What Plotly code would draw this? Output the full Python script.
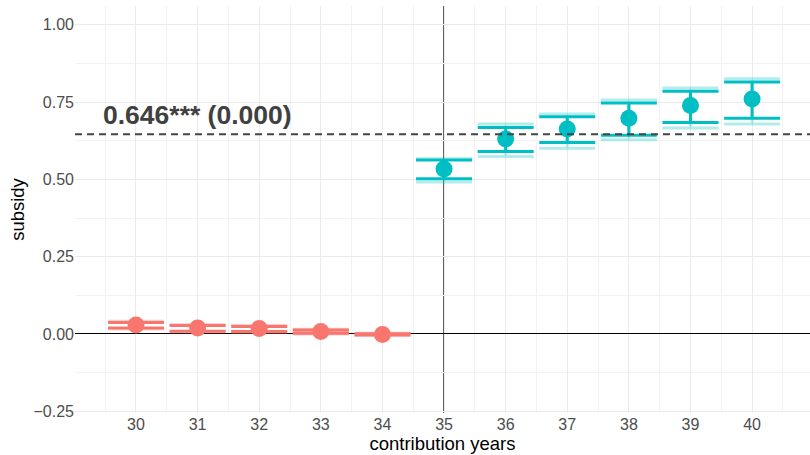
import plotly.graph_objects as go

# ---- data ----
years_pre = [30, 31, 32, 33, 34]
est_pre = [0.029, 0.019, 0.018, 0.008, -0.002]
hi_pre_inner = [0.037, 0.027, 0.024, 0.013, 0.001]
lo_pre_inner = [0.019, 0.009, 0.008, 0.002, -0.003]
hi_pre_outer = [0.041, 0.030, 0.027, 0.015, 0.002]
lo_pre_outer = [0.016, 0.006, 0.005, 0.000, -0.004]

years_post = [35, 36, 37, 38, 39, 40]
est_post = [0.534, 0.631, 0.663, 0.698, 0.739, 0.760]
hi_post_inner = [0.563, 0.668, 0.703, 0.747, 0.785, 0.815]
lo_post_inner = [0.502, 0.590, 0.619, 0.643, 0.684, 0.698]
hi_post_outer = [0.567, 0.679, 0.712, 0.757, 0.796, 0.826]
lo_post_outer = [0.492, 0.574, 0.601, 0.628, 0.666, 0.679]

pooled = 0.646
pooled_label = "0.646*** (0.000)"
cutoff = 35

x_ticks = list(range(30, 41))
y_ticks = [-0.25, 0.0, 0.25, 0.5, 0.75, 1.0]
y_ticktext = ["\u22120.25", "0.00", "0.25", "0.50", "0.75", "1.00"]

RED = "#F8766D"
CYAN = "#00BFC4"
FONT = "Liberation Sans, Arial, sans-serif"


def up(hi, est):
    return [h - e for h, e in zip(hi, est)]


def down(lo, est):
    return [e - l for l, e in zip(lo, est)]


fig = go.Figure()

for xs, est, hi_o, lo_o, hi_i, lo_i, col, light in [
    (years_pre, est_pre, hi_pre_outer, lo_pre_outer, hi_pre_inner, lo_pre_inner, RED, "rgba(248,118,109,0.35)"),
    (years_post, est_post, hi_post_outer, lo_post_outer, hi_post_inner, lo_post_inner, CYAN, "rgba(0,191,196,0.3)"),
]:
    # outer (light) interval
    fig.add_trace(go.Scatter(
        x=xs, y=est, mode="markers",
        marker=dict(size=1, color="rgba(0,0,0,0)"),
        error_y=dict(type="data", symmetric=False, array=up(hi_o, est),
                     arrayminus=down(lo_o, est), color=light, thickness=3, width=28),
        showlegend=False, hoverinfo="skip",
    ))
    # inner interval + point
    fig.add_trace(go.Scatter(
        x=xs, y=est, mode="markers",
        marker=dict(size=17, color=col),
        error_y=dict(type="data", symmetric=False, array=up(hi_i, est),
                     arrayminus=down(lo_i, est), color=col, thickness=3, width=28),
        showlegend=False,
    ))

# reference lines
fig.add_hline(y=pooled, line=dict(color="#444444", width=2, dash="7px,5px"), layer="above")
fig.add_vline(x=cutoff, line=dict(color="#333333", width=1.6), layer="below")

fig.add_annotation(
    x=31, y=0.709, text="<b>" + pooled_label + "</b>", showarrow=False,
    font=dict(family=FONT, size=26.5, color="#404040"),
    xanchor="center", yanchor="middle",
)

fig.update_layout(
    width=810, height=455,
    margin=dict(l=75, r=0, t=6, b=42),
    plot_bgcolor="white", paper_bgcolor="white",
    font=dict(family=FONT, size=16, color="#4d4d4d"),
    xaxis=dict(
        range=[29.01, 40.94], tickmode="array", tickvals=x_ticks,
        ticktext=[str(v) for v in x_ticks],
        showgrid=True, gridcolor="#ebebeb", gridwidth=1.2,
        minor=dict(dtick=0.5, tick0=29.5, showgrid=True, gridcolor="#f2f2f2", gridwidth=0.8),
        zeroline=False, showline=False, ticks="", automargin=False,
        title=dict(text="contribution years", font=dict(size=18.5, color="black"), standoff=0),
        tickfont=dict(size=16, color="#4d4d4d"),
    ),
    yaxis=dict(
        range=[-0.2557, 1.061], tickmode="array", tickvals=y_ticks,
        ticktext=y_ticktext,
        showgrid=True, gridcolor="#ebebeb", gridwidth=1.2,
        minor=dict(dtick=0.125, tick0=-0.125, showgrid=True, gridcolor="#f2f2f2", gridwidth=0.8),
        zeroline=True, zerolinecolor="black", zerolinewidth=1.2,
        showline=False, ticks="", automargin=False,
        title=dict(text="subsidy", font=dict(size=18.5, color="black"), standoff=4),
        tickfont=dict(size=16, color="#4d4d4d"),
    ),
)

fig.write_html(
    "out.html",
    config={"displayModeBar": False},
    post_script="document.body.style.margin='0';document.body.style.overflow='hidden';",
)
